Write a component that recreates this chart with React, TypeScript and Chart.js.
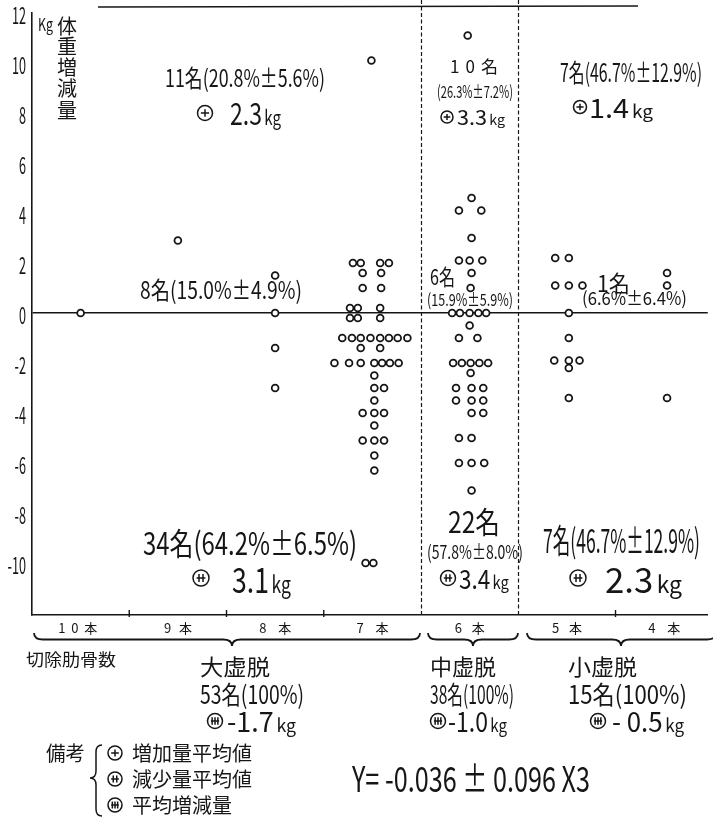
import { useEffect, useRef } from 'react';
import { Chart, registerables } from 'chart.js';

Chart.register(...registerables);

// ---------------- data ----------------
const categories = ['10本', '9本', '8本', '7本', '6本', '5本', '4本'];
const yTickValues = [12, 10, 8, 6, 4, 2, 0, -2, -4, -6, -8, -10];

// each point: [horizontal dot-plot slot offset within the category, weight change kg]
const pts10 = [[0, 0]];
const pts9 = [[0, 2.9]];
const pts8 = [[0, 1.5], [0, 0], [0, -1.4], [0, -3.0]];
const pts7 = [
  [-0.01, 10.1],
  [-0.2, 2.0], [-0.12, 2.0], [0.08, 2.0], [0.17, 2.0],
  [-0.1, 1.6], [0.09, 1.6],
  [-0.1, 1.0], [0.09, 1.0],
  [-0.23, 0.2], [-0.15, 0.2], [0.08, 0.2],
  [-0.23, -0.2], [-0.15, -0.2], [0.08, -0.2],
  [-0.31, -1.0], [-0.21, -1.0], [-0.12, -1.0], [-0.02, -1.0], [0.08, -1.0], [0.17, -1.0], [0.26, -1.0], [0.36, -1.0],
  [-0.12, -1.4], [0.08, -1.4],
  [-0.39, -2.0], [-0.24, -2.0], [-0.12, -2.0], [0.02, -2.0], [0.1, -2.0], [0.18, -2.0], [0.27, -2.0],
  [0.02, -2.5],
  [0.02, -3.0], [0.12, -3.0],
  [0.02, -3.5],
  [-0.1, -4.0], [0.02, -4.0], [0.12, -4.0],
  [0.02, -4.5],
  [-0.1, -5.1], [0.02, -5.1], [0.12, -5.1],
  [0.02, -5.7],
  [0.02, -6.3],
  [-0.07, -10.0], [0.01, -10.0],
];
const pts6 = [
  [-0.02, 11.1],
  [0.02, 4.6],
  [-0.11, 4.1], [0.12, 4.1],
  [0.02, 3.0],
  [-0.11, 2.1], [0, 2.1], [0.13, 2.1],
  [0.02, 1.6],
  [0.01, 1.0],
  [-0.18, 0], [-0.1, 0], [0, 0], [0.09, 0], [0.17, 0],
  [0, -0.5],
  [-0.11, -1.0], [0.08, -1.0],
  [-0.17, -2.0], [-0.08, -2.0], [0.01, -2.0], [0.1, -2.0], [0.19, -2.0],
  [0.01, -2.4],
  [-0.14, -3.0], [0.02, -3.0], [0.14, -3.0],
  [-0.14, -3.5], [0.02, -3.5], [0.14, -3.5],
  [0.02, -4.0], [0.14, -4.0],
  [-0.11, -5.0], [0.02, -5.0],
  [-0.11, -6.0], [0.02, -6.0], [0.15, -6.0],
  [0.02, -7.1],
];
const pts5 = [
  [-0.12, 2.2], [0.02, 2.2],
  [-0.12, 1.1], [0.02, 1.1], [0.16, 1.1],
  [0.02, 0],
  [0.02, -1.0],
  [-0.13, -1.9], [0.02, -1.9], [0.13, -1.9],
  [0.02, -2.2],
  [0.02, -3.4],
];
const pts4 = [[0.03, 1.6], [0.03, 1.1], [0.03, -3.4]];
const allPoints = [pts10, pts9, pts8, pts7, pts6, pts5, pts4];

const yUnit = 'Kg';
const yTitle = '体重増減量';
const xTitle = '切除肋骨数';
const groupNames = ['大虚脱', '中虚脱', '小虚脱'];
const groupCounts = ['53名(100%)', '38名(100%)', '15名(100%)'];
const groupMeans = ['-1.7', '-1.0', '- 0.5'];
const increaseCounts = ['11名(20.8%±5.6%)', '10名', '7名(46.7%±12.9%)'];
const increasePcts = ['', '(26.3%±7.2%)', ''];
const increaseMeans = ['2.3', '3.3', '1.4'];
const zeroCounts = ['8名(15.0%±4.9%)', '6名', '1名'];
const zeroPcts = ['', '(15.9%±5.9%)', '(6.6%±6.4%)'];
const decreaseCounts = ['34名(64.2%±6.5%)', '22名', '7名(46.7%±12.9%)'];
const decreasePcts = ['', '(57.8%±8.0%)', ''];
const decreaseMeans = ['3.1', '3.4', '2.3'];
const remarksTitle = '備考';
const legendItems = ['増加量平均値', '減少量平均値', '平均増減量'];
const equation = 'Y= -0.036 ± 0.096 X3';
const unitKg = 'kg';

// ---------------- drawing helpers ----------------
const INK = '#161616';
const FONT = "'Noto Sans CJK JP', 'Noto Sans', sans-serif";

function fitText(ctx: CanvasRenderingContext2D, text: string, left: number, right: number, cy: number, size: number) {
  ctx.save();
  ctx.font = `${size}px ${FONT}`;
  ctx.textAlign = 'left';
  ctx.textBaseline = 'middle';
  ctx.fillStyle = INK;
  const natural = ctx.measureText(text).width;
  const target = right - left;
  const n = Array.from(text).length;
  if (target > natural * 1.12 && n > 1) {
    (ctx as any).letterSpacing = `${(target - natural) / (n - 1)}px`;
    ctx.fillText(text, left, cy);
  } else {
    ctx.translate(left, cy);
    ctx.scale(target / natural, 1);
    ctx.fillText(text, 0, 0);
  }
  ctx.restore();
}

function rightText(ctx: CanvasRenderingContext2D, text: string, right: number, cy: number, size: number, sx: number) {
  ctx.save();
  ctx.font = `${size}px ${FONT}`;
  ctx.textAlign = 'right';
  ctx.textBaseline = 'middle';
  ctx.fillStyle = INK;
  ctx.translate(right, cy);
  ctx.scale(sx, 1);
  ctx.fillText(text, 0, 0);
  ctx.restore();
}

function centerText(ctx: CanvasRenderingContext2D, text: string, cx: number, cy: number, size: number) {
  ctx.save();
  ctx.font = `${size}px ${FONT}`;
  ctx.textAlign = 'center';
  ctx.textBaseline = 'middle';
  ctx.fillStyle = INK;
  ctx.fillText(text, cx, cy);
  ctx.restore();
}

function numUnit(ctx: CanvasRenderingContext2D, num: string, unit: string, left: number, right: number, cy: number, size: number) {
  ctx.save();
  ctx.fillStyle = INK;
  ctx.textAlign = 'left';
  ctx.textBaseline = 'alphabetic';
  ctx.font = `${size}px ${FONT}`;
  const w1 = ctx.measureText(num).width;
  const us = size * 0.66;
  ctx.font = `${us}px ${FONT}`;
  const w2 = ctx.measureText(unit).width;
  const gap = size * 0.1;
  const sx = (right - left) / (w1 + gap + w2);
  const base = cy + size * 0.36;
  ctx.translate(left, base);
  ctx.scale(sx, 1);
  ctx.font = `${size}px ${FONT}`;
  ctx.fillText(num, 0, 0);
  ctx.font = `${us}px ${FONT}`;
  ctx.fillText(unit, w1 + gap, 0);
  ctx.restore();
}

function sym(ctx: CanvasRenderingContext2D, cx: number, cy: number, r: number, n: number) {
  ctx.save();
  ctx.strokeStyle = INK;
  ctx.lineWidth = 1.5;
  ctx.beginPath();
  ctx.arc(cx, cy, r, 0, Math.PI * 2);
  ctx.stroke();
  ctx.beginPath();
  ctx.moveTo(cx - r * 0.55, cy);
  ctx.lineTo(cx + r * 0.55, cy);
  const offs = n === 1 ? [0] : n === 2 ? [-0.25, 0.25] : [-0.38, 0, 0.38];
  offs.forEach((o) => {
    ctx.moveTo(cx + o * r, cy - r * 0.5);
    ctx.lineTo(cx + o * r, cy + r * 0.5);
  });
  ctx.stroke();
  ctx.restore();
}

function hBrace(ctx: CanvasRenderingContext2D, x1: number, x2: number, xm: number, y0: number, h: number) {
  const r = 9;
  const ym = y0 + h / 2;
  ctx.save();
  ctx.strokeStyle = INK;
  ctx.lineWidth = 1.8;
  ctx.beginPath();
  ctx.moveTo(x1, y0);
  ctx.quadraticCurveTo(x1, ym, x1 + r, ym);
  ctx.lineTo(xm - r, ym);
  ctx.quadraticCurveTo(xm, ym, xm, y0 + h);
  ctx.quadraticCurveTo(xm, ym, xm + r, ym);
  ctx.lineTo(x2 - r, ym);
  ctx.quadraticCurveTo(x2, ym, x2, y0);
  ctx.stroke();
  ctx.restore();
}

function vBrace(ctx: CanvasRenderingContext2D, xr: number, y1: number, y2: number, ym: number, w: number) {
  const r = 7;
  const xc = xr - w / 2;
  ctx.save();
  ctx.strokeStyle = INK;
  ctx.lineWidth = 1.5;
  ctx.beginPath();
  ctx.moveTo(xr, y1);
  ctx.quadraticCurveTo(xc, y1, xc, y1 + r);
  ctx.lineTo(xc, ym - r);
  ctx.quadraticCurveTo(xc, ym, xr - w, ym);
  ctx.quadraticCurveTo(xc, ym, xc, ym + r);
  ctx.lineTo(xc, y2 - r);
  ctx.quadraticCurveTo(xc, y2, xr, y2);
  ctx.stroke();
  ctx.restore();
}

const decor = {
  id: 'decor',
  beforeDatasetsDraw(chart: any) {
    const { ctx, chartArea, scales } = chart;
    const xs = scales.x;
    ctx.save();
    ctx.strokeStyle = INK;
    // dashed group dividers
    ctx.lineWidth = 1.2;
    ctx.setLineDash([4, 2.5]);
    [4.5, 5.5].forEach((v) => {
      const px = Math.round(xs.getPixelForValue(v)) + 0.5;
      ctx.beginPath();
      ctx.moveTo(px, 0);
      ctx.lineTo(px, chartArea.bottom);
      ctx.stroke();
    });
    ctx.setLineDash([]);
    // category boundary ticks
    ctx.lineWidth = 1.4;
    [1.5, 2.5, 3.5, 6.5].forEach((v) => {
      const px = xs.getPixelForValue(v);
      ctx.beginPath();
      ctx.moveTo(px, chartArea.bottom - 5);
      ctx.lineTo(px, chartArea.bottom + 2);
      ctx.stroke();
    });
    // top rule
    ctx.lineWidth = 1.5;
    ctx.beginPath();
    ctx.moveTo(98, 7);
    ctx.lineTo(638, 6);
    ctx.stroke();
    ctx.restore();
  },
  afterDraw(chart: any) {
    const { ctx, scales } = chart;
    const xs = scales.x;
    const ys = scales.y;

    // y tick labels
    yTickValues.forEach((v) => rightText(ctx, String(v), 26, ys.getPixelForValue(v) + 2, 23, 0.55));
    // y title
    fitText(ctx, yUnit, 38, 53, 25, 17);
    const titleY = [26, 46, 67, 88, 110];
    Array.from(yTitle).forEach((ch, i) => centerText(ctx, ch, 67, titleY[i], 20));

    // category labels
    const catW = [39, 28, 32, 32, 30, 30, 32];
    categories.forEach((c, i) => {
      const cx = xs.getPixelForValue(i + 1) - (i === 0 ? 3 : 0);
      fitText(ctx, c, cx - catW[i] / 2, cx + catW[i] / 2, 628, 13);
    });

    // increase annotations
    fitText(ctx, increaseCounts[0], 165, 325, 78, 24);
    sym(ctx, 205, 113, 7.5, 1);
    numUnit(ctx, increaseMeans[0], unitKg, 230, 281, 114, 31);

    fitText(ctx, increaseCounts[1], 450, 498, 67, 17);
    fitText(ctx, increasePcts[1], 437, 513, 92, 17);
    sym(ctx, 447, 117, 6, 1);
    numUnit(ctx, increaseMeans[1], unitKg, 457, 505, 118, 20);

    fitText(ctx, increaseCounts[2], 560, 702, 72, 25);
    sym(ctx, 580, 107, 6.5, 1);
    numUnit(ctx, increaseMeans[2], unitKg, 589, 653, 108, 27);

    // zero-change annotations
    fitText(ctx, zeroCounts[0], 140, 302, 290, 24);
    fitText(ctx, zeroCounts[1], 430, 455, 277, 22);
    fitText(ctx, zeroPcts[1], 427, 513, 300, 17);
    fitText(ctx, zeroCounts[2], 597, 630, 283, 23);
    fitText(ctx, zeroPcts[2], 582, 687, 298, 18);

    // decrease annotations
    fitText(ctx, decreaseCounts[0], 143, 357, 543, 31);
    sym(ctx, 201, 578, 8, 2);
    numUnit(ctx, decreaseMeans[0], unitKg, 232, 291, 580, 35);

    fitText(ctx, decreaseCounts[1], 448, 500, 522, 30);
    fitText(ctx, decreasePcts[1], 427, 523, 552, 19);
    sym(ctx, 448, 578, 7.5, 2);
    numUnit(ctx, decreaseMeans[1], unitKg, 459, 509, 579, 27);

    fitText(ctx, decreaseCounts[2], 543, 700, 540, 33);
    sym(ctx, 578, 578, 8, 2);
    numUnit(ctx, decreaseMeans[2], unitKg, 605, 682, 580, 35);

    // braces under the axis
    hBrace(ctx, 34, 420, 232, 633, 13);
    hBrace(ctx, 428, 518, 473, 633, 13);
    hBrace(ctx, 527, 716, 621, 633, 13);

    fitText(ctx, xTitle, 26, 116, 660, 17);

    // group summaries
    const gx = [[200, 270, 200, 304, 215, 227, 296], [430, 496, 430, 514, 438, 448, 507], [568, 637, 568, 687, 598, 612, 684]];
    groupNames.forEach((g, i) => {
      const p = gx[i];
      fitText(ctx, g, p[0], p[1], 667, 22);
      fitText(ctx, groupCounts[i], p[2], p[3], 694, 25);
      sym(ctx, p[4], 721, 7.5, 3);
      numUnit(ctx, groupMeans[i], unitKg, p[5], p[6], 722, 28);
    });

    // remarks / legend
    fitText(ctx, remarksTitle, 46, 85, 753, 20);
    vBrace(ctx, 102, 745, 816, 778, 12);
    const ly = [753, 779, 805];
    const lr = [252, 252, 232];
    legendItems.forEach((t, i) => {
      sym(ctx, 115, ly[i], 7, i + 1);
      fitText(ctx, t, 132, lr[i], ly[i], 20);
    });

    // regression equation
    fitText(ctx, equation, 352, 590, 779, 35);
  },
};

export default function App() {
  const ref = useRef<HTMLCanvasElement>(null);
  useEffect(() => {
    const canvas = ref.current;
    if (!canvas) return;
    const chart = new Chart(canvas, {
      type: 'scatter',
      data: {
        datasets: allPoints.map((pts, i) => ({
          label: categories[i],
          data: pts.map(([dx, v]) => ({ x: i + 1 + dx, y: v })),
          pointRadius: 3.4,
          pointHoverRadius: 3.4,
          pointBorderWidth: 1.8,
          borderColor: INK,
          backgroundColor: '#ffffff',
        })),
      },
      options: {
        animation: false,
        responsive: false,
        devicePixelRatio: 1,
        layout: { padding: { left: 32, right: 0, top: 13, bottom: 205 } },
        plugins: { legend: { display: false }, tooltip: { enabled: false } },
        scales: {
          x: {
            type: 'linear',
            min: 0.5,
            max: 7.449,
            afterFit: (s: any) => { s.height = 0; },
            ticks: { display: false },
            grid: { display: false, drawTicks: false },
            border: { display: true, color: INK, width: 1.6 },
          },
          y: {
            type: 'linear',
            min: -12.08,
            max: 12,
            afterFit: (s: any) => { s.width = 0; },
            afterBuildTicks: (s: any) => { s.ticks = yTickValues.map((v) => ({ value: v })); },
            ticks: { display: false },
            grid: {
              drawTicks: false,
              color: (c: any) => (c.tick && c.tick.value === 0 ? INK : 'rgba(0,0,0,0)'),
              lineWidth: 1.4,
            },
            border: { display: true, color: INK, width: 1.6 },
          },
        },
      } as any,
      plugins: [decor],
    });
    return () => chart.destroy();
  }, []);
  return (
    <div style={{ position: 'absolute', left: 0, top: 0, width: 713, height: 820, background: '#fff' }}>
      <canvas ref={ref} width={713} height={820} style={{ display: 'block', width: 713, height: 820 }} />
    </div>
  );
}
